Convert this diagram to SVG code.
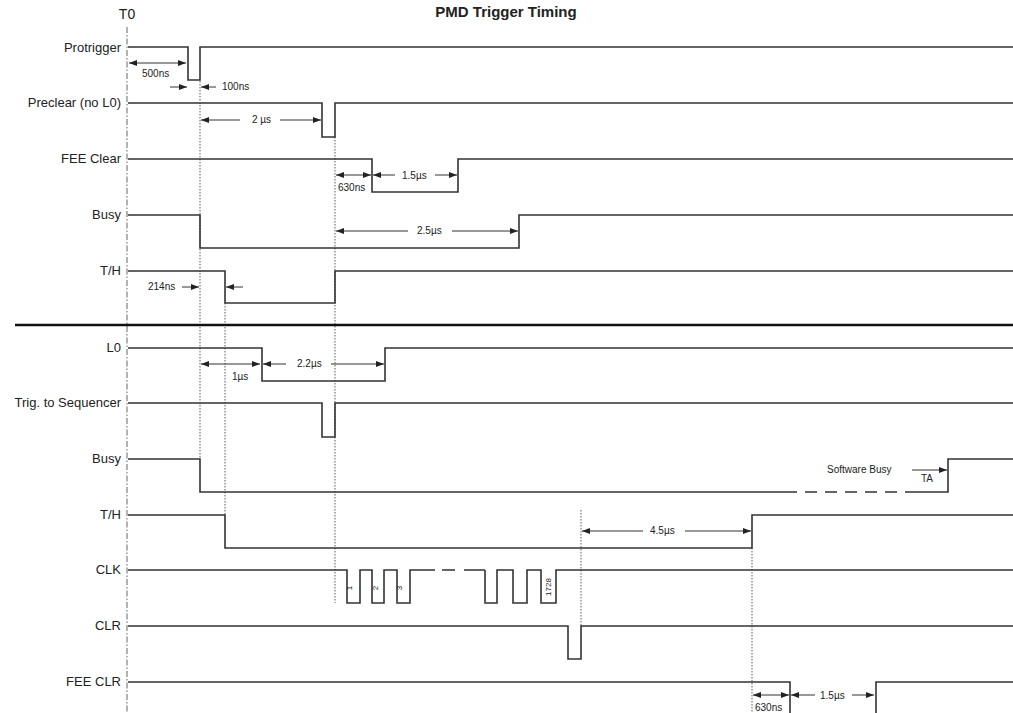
<svg xmlns="http://www.w3.org/2000/svg" width="1013" height="713" viewBox="0 0 1013 713">
<style>
.sig{fill:none;stroke:#333;stroke-width:1.6;stroke-linejoin:miter}
.lbl{font-family:"Liberation Sans",Arial,sans-serif;font-size:13px;fill:#222;text-anchor:end}
.ann{font-family:"Liberation Sans",Arial,sans-serif;font-size:10px;fill:#222}
.small{font-family:"Liberation Sans",Arial,sans-serif;font-size:8px;fill:#222;text-anchor:middle}
.dim{fill:none;stroke:#333;stroke-width:1}
.dot{fill:none;stroke:#777;stroke-width:1.2;stroke-dasharray:1.5,1.5}
</style>
<defs>
<marker id="ah" viewBox="0 0 8 6" refX="8" refY="3" markerWidth="8" markerHeight="6" markerUnits="userSpaceOnUse" orient="auto-start-reverse">
<path d="M0,0 L8,3 L0,6 z" fill="#222"/>
</marker>
</defs>
<rect width="1013" height="713" fill="#fff"/>

<text x="506" y="17" font-family="Liberation Sans,Arial,sans-serif" font-size="15" font-weight="bold" fill="#222" text-anchor="middle">PMD Trigger Timing</text>
<g id="t0">
<text x="127" y="19" font-family="Liberation Sans,Arial,sans-serif" font-size="14" fill="#222" text-anchor="middle">T0</text>
<line x1="127" y1="27" x2="127" y2="713" stroke="#999" stroke-width="1.5" stroke-dasharray="6,2,1.5,2"/>
</g>

<g id="guides">
<line class="dot" x1="200" y1="81" x2="200" y2="459"/>
<line class="dot" x1="225" y1="303" x2="225" y2="515"/>
<line class="dot" x1="335" y1="137" x2="335" y2="603"/>
<line class="dot" x1="581" y1="510" x2="581" y2="626"/>
<line class="dot" x1="752" y1="548" x2="752" y2="713"/>
</g>

<line id="separator" x1="15" y1="325" x2="1013" y2="325" stroke="#111" stroke-width="2.6"/>

<g id="protrigger">
<text class="lbl" x="121" y="52">Protrigger</text>
<path class="sig" d="M128,47 H188 V80 H200 V47 H1013"/>
</g>
<g id="preclear">
<text class="lbl" x="121" y="107">Preclear (no L0)</text>
<path class="sig" d="M128,103 H322 V137 H335 V103 H1013"/>
</g>
<g id="fee-clear">
<text class="lbl" x="121" y="163">FEE Clear</text>
<path class="sig" d="M128,159 H372 V192 H458 V159 H1013"/>
</g>
<g id="busy-top">
<text class="lbl" x="121" y="219">Busy</text>
<path class="sig" d="M128,215 H200 V248 H519 V215 H1013"/>
</g>
<g id="th-top">
<text class="lbl" x="121" y="275">T/H</text>
<path class="sig" d="M128,271 H225 V303 H335 V271 H1013"/>
</g>

<g id="l0">
<text class="lbl" x="121" y="352">L0</text>
<path class="sig" d="M128,348 H262 V381 H385 V348 H1013"/>
</g>
<g id="trig-seq">
<text class="lbl" x="121" y="407">Trig. to Sequencer</text>
<path class="sig" d="M128,403 H322 V437 H335 V403 H1013"/>
</g>
<g id="busy-bottom">
<text class="lbl" x="121" y="463">Busy</text>
<path class="sig" d="M128,459 H200 V492 H785"/>
<path class="sig" d="M785,492 H915" stroke-dasharray="12,8"/>
<path class="sig" d="M915,492 H948 V459 H1013"/>
<text class="ann" x="827" y="473" font-size="9">Software Busy</text>
<text class="ann" x="921" y="482" font-size="7">TA</text>
</g>
<g id="th-bottom">
<text class="lbl" x="121" y="519">T/H</text>
<path class="sig" d="M128,515 H225 V548 H752 V515 H1013"/>
</g>
<g id="clk">
<text class="lbl" x="121" y="574">CLK</text>
<path class="sig" d="M128,570 H347 V603 H360 V570 H372 V603 H384 V570 H397 V603 H410 V570 H435"/>
<path class="sig" d="M442,570 H455 M464,570 H485"/>
<path class="sig" d="M485,570 V603 H497 V570 H513 V603 H527 V570 H541 V603 H556 V570 H1013"/>
<text class="small" transform="translate(352,588) rotate(-90)">1</text>
<text class="small" transform="translate(378,588) rotate(-90)">2</text>
<text class="small" transform="translate(402,588) rotate(-90)">3</text>
<text class="small" font-size="9" transform="translate(551,587) rotate(-90)">1728</text>
</g>
<g id="clr">
<text class="lbl" x="121" y="630">CLR</text>
<path class="sig" d="M128,626 H568 V659 H581 V626 H1013"/>
</g>
<g id="fee-clr">
<text class="lbl" x="121" y="686">FEE CLR</text>
<path class="sig" d="M128,682 H790 V716 M876,716 V682 H1013"/>
</g>

<g id="connectors">
<line class="dim" x1="129" y1="63" x2="186" y2="63" marker-start="url(#ah)" marker-end="url(#ah)"/>
<text class="ann" x="142" y="77">500ns</text>
<line class="dim" x1="170" y1="87" x2="187" y2="87" marker-end="url(#ah)"/>
<line class="dim" x1="216" y1="87" x2="201" y2="87" marker-end="url(#ah)"/>
<text class="ann" x="222" y="90">100ns</text>

<line class="dim" x1="240" y1="120" x2="201" y2="120" marker-end="url(#ah)"/>
<line class="dim" x1="280" y1="120" x2="321" y2="120" marker-end="url(#ah)"/>
<text class="ann" x="252" y="123">2 µs</text>

<line class="dim" x1="336" y1="175" x2="371" y2="175" marker-start="url(#ah)" marker-end="url(#ah)"/>
<text class="ann" x="338" y="191">630ns</text>
<line class="dim" x1="395" y1="175" x2="373" y2="175" marker-end="url(#ah)"/>
<line class="dim" x1="435" y1="175" x2="457" y2="175" marker-end="url(#ah)"/>
<text class="ann" x="402" y="179">1.5µs</text>

<line class="dim" x1="408" y1="231" x2="336" y2="231" marker-end="url(#ah)"/>
<line class="dim" x1="452" y1="231" x2="518" y2="231" marker-end="url(#ah)"/>
<text class="ann" x="417" y="234">2.5µs</text>

<text class="ann" x="148" y="290">214ns</text>
<line class="dim" x1="182" y1="287" x2="199" y2="287" marker-end="url(#ah)"/>
<line class="dim" x1="243" y1="287" x2="226" y2="287" marker-end="url(#ah)"/>

<line class="dim" x1="201" y1="364" x2="260" y2="364" marker-start="url(#ah)" marker-end="url(#ah)"/>
<text class="ann" x="232" y="380">1µs</text>
<line class="dim" x1="286" y1="364" x2="263" y2="364" marker-end="url(#ah)"/>
<line class="dim" x1="331" y1="364" x2="384" y2="364" marker-end="url(#ah)"/>
<text class="ann" x="297" y="367">2.2µs</text>

<line class="dim" x1="912" y1="470" x2="947" y2="470" marker-end="url(#ah)"/>

<line class="dim" x1="643" y1="531" x2="582" y2="531" marker-end="url(#ah)"/>
<line class="dim" x1="685" y1="531" x2="751" y2="531" marker-end="url(#ah)"/>
<text class="ann" x="650" y="534">4.5µs</text>

<line class="dim" x1="753" y1="695" x2="789" y2="695" marker-start="url(#ah)" marker-end="url(#ah)"/>
<text class="ann" x="755" y="711">630ns</text>
<line class="dim" x1="815" y1="695" x2="791" y2="695" marker-end="url(#ah)"/>
<line class="dim" x1="852" y1="695" x2="874" y2="695" marker-end="url(#ah)"/>
<text class="ann" x="820" y="699">1.5µs</text>
</g>
</svg>
